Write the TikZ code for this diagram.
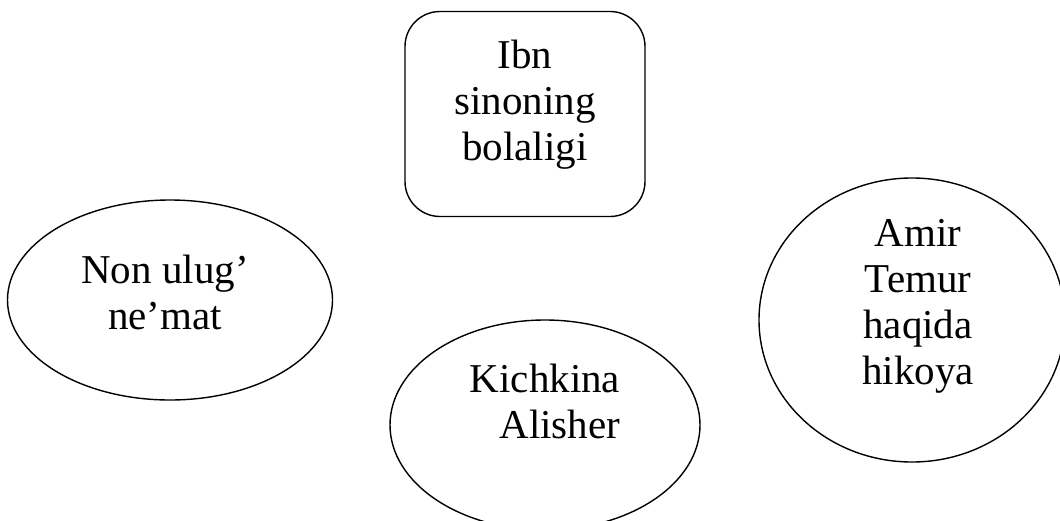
\documentclass[tikz,border=0pt]{standalone}
\usepackage{fontspec}
\setmainfont{Liberation Serif}
\usepackage{tikz}
\usetikzlibrary{shapes.geometric}

\begin{document}
\begin{tikzpicture}[x=1pt,y=-1pt,line width=1.4pt]
        \tikzstyle{oval}=[draw,ellipse,inner sep=0pt]
        \tikzstyle{box}=[draw,rectangle,rounded corners=35pt,inner sep=0pt]
        \tikzstyle{txt}=[align=center,font=\fontsize{41}{46}\selectfont]
        \useasboundingbox (0,0) rectangle (1060,520);
        \node[box,minimum width=240pt,minimum height=205pt] (ibnSino) at (525,114) {};
        \node[oval,minimum width=325pt,minimum height=200pt] (nonUlug) at (170,300) {};
        \node[oval,minimum width=310pt,minimum height=210pt] (alisher) at (545,425) {};
        \node[oval,minimum width=306pt,minimum height=284pt] (temur) at (912,320) {};
        \node[txt] (ibnSinoT) at ([yshift=9pt]ibnSino.center) {Ibn\\sinoning\\bolaligi};
        \node[txt] (nonUlugT) at ([xshift=-5pt,yshift=8pt]nonUlug.center) {Non ulug’\\ne’mat};
        \node[txt,align=right] (alisherT) at ([yshift=24pt]alisher.center) {Kichkina\\Alisher};
        \node[txt] (temurT) at ([xshift=6pt,yshift=14pt]temur.center) {Amir\\Temur\\haqida\\hikoya};
    \end{tikzpicture}
\end{document}
